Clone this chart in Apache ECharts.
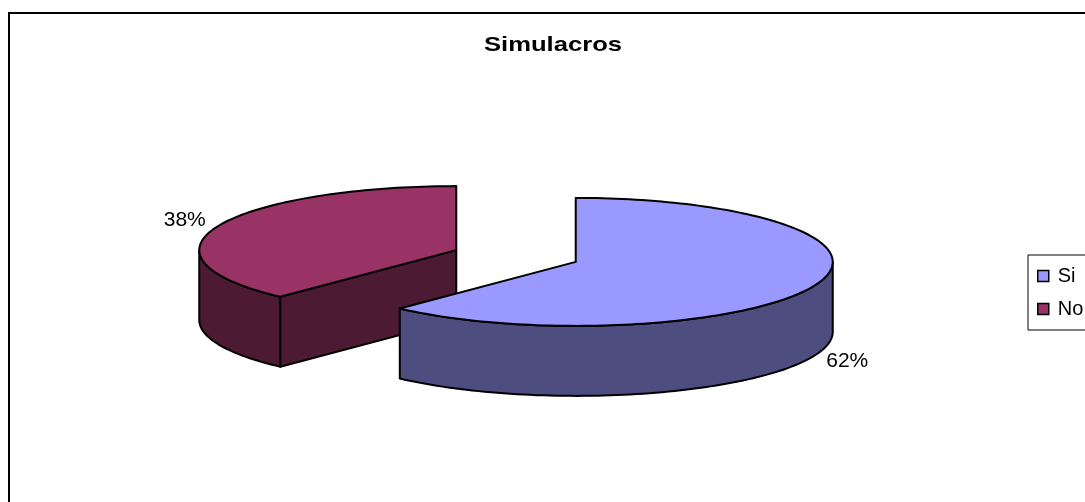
<!DOCTYPE html>
<html>
<head>
<meta charset="utf-8">
<title>Simulacros</title>
<script src="https://cdn.jsdelivr.net/npm/echarts@6/dist/echarts.min.js"></script>
<style>
  html, body { margin: 0; padding: 0; background: #fff; }
  #chart { width: 1085px; height: 502px; }
</style>
</head>
<body>
<div id="chart"></div>
<script>
// Answers to the survey question
const categories = ['Si', 'No'];
const values = [62, 38];
const chartTitle = 'Simulacros';

// 3D pie geometry (screen pixels)
const CX = 516, CY = 256;      // pie centre before exploding
const RX = 257, RY = 64;       // ellipse radii of the top face
const DEPTH = 70;              // thickness of the disc
const EXPLODE = 0.25;          // slice offset as a fraction of the radius
const FONT = '"Liberation Sans", Arial, sans-serif';

const total = values.reduce((s, v) => s + v, 0);
const startAngles = [];
let acc = 0;
values.forEach(v => { startAngles.push(acc / total * 360); acc += v; });

const rad = d => d * Math.PI / 180;

// point on the top ellipse; angle measured clockwise from 12 o'clock
function rim(cx, cy, deg, dy) {
  const r = rad(deg);
  return [cx + RX * Math.sin(r), cy - RY * Math.cos(r) + (dy || 0)];
}

function arc(cx, cy, a, b, dy) {
  const pts = [];
  const n = Math.max(2, Math.ceil(Math.abs(b - a) / 1.5));
  for (let k = 0; k <= n; k++) pts.push(rim(cx, cy, a + (b - a) * k / n, dy));
  return pts;
}

function darken(hex, f) {
  const n = parseInt(hex.slice(1), 16);
  const r = Math.round(((n >> 16) & 255) * f);
  const g = Math.round(((n >> 8) & 255) * f);
  const b = Math.round((n & 255) * f);
  return 'rgb(' + r + ',' + g + ',' + b + ')';
}

function renderSlice(params, api) {
  const i = params.seriesIndex;
  const v = api.value(0);
  const th0 = startAngles[i];
  const th1 = th0 + v / total * 360;
  const mid = rad((th0 + th1) / 2);
  const cx = CX + EXPLODE * RX * Math.sin(mid);
  const cy = CY - EXPLODE * RY * Math.cos(mid);
  // slices nearer the viewer are painted later
  const base = Math.round((1 - Math.cos(mid)) * 50) * 10;
  const topColor = api.visual('color');
  const sideColor = darken(topColor, 0.5);
  const line = { stroke: '#000', lineWidth: 2, lineJoin: 'round' };
  const children = [];

  // visible part of the curved outer wall (front half of the disc)
  const a = Math.max(th0, 90), b = Math.min(th1, 270);
  if (b > a) {
    const pts = arc(cx, cy, a, b, 0).concat(arc(cx, cy, b, a, DEPTH));
    children.push({ type: 'polygon', z2: base + 1,
      shape: { points: pts }, style: Object.assign({ fill: sideColor }, line) });
  }
  // flat radial faces that turn toward the viewer
  const face = deg => {
    const p = rim(cx, cy, deg, 0);
    return [[cx, cy], p, [p[0], p[1] + DEPTH], [cx, cy + DEPTH]];
  };
  if (Math.sin(rad(th0)) < -1e-6) {
    children.push({ type: 'polygon', z2: base + 1,
      shape: { points: face(th0) }, style: Object.assign({ fill: sideColor }, line) });
  }
  if (Math.sin(rad(th1)) > 1e-6) {
    children.push({ type: 'polygon', z2: base + 1,
      shape: { points: face(th1) }, style: Object.assign({ fill: sideColor }, line) });
  }
  // top face
  children.push({ type: 'polygon', z2: base + 2,
    shape: { points: [[cx, cy]].concat(arc(cx, cy, th0, th1, 0)) },
    style: Object.assign({ fill: topColor }, line) });

  // percentage label outside the rim
  const front = Math.cos(mid) < 0;
  children.push({ type: 'text', z2: base + 3,
    x: cx + (RX + 35) * Math.sin(mid),
    y: cy - (RY + 16) * Math.cos(mid) + (front ? DEPTH : 0),
    style: { text: Math.round(v / total * 100) + '%', font: '21px ' + FONT,
      fill: '#000', align: 'center', verticalAlign: 'middle' } });

  return { type: 'group', children: children };
}

const chart = echarts.init(document.getElementById('chart'), null, { renderer: 'canvas' });

chart.setOption({
  animation: false,
  backgroundColor: '#fff',
  color: ['#9999FF', '#993366'],
  graphic: [
    { type: 'rect', z: 0, shape: { x: 9, y: 13, width: 1090, height: 500 },
      style: { fill: 'none', stroke: '#000', lineWidth: 2 } },
    { type: 'text', x: 553, y: 45, scaleX: 1.22,
      style: { text: chartTitle, font: 'bold 21px ' + FONT, fill: '#000',
        align: 'center', verticalAlign: 'middle' } }
  ],
  legend: {
    orient: 'vertical',
    left: 1028, top: 255,
    padding: [11, 30, 11, 9],
    itemWidth: 11, itemHeight: 11, itemGap: 13,
    icon: 'rect',
    borderColor: '#000', borderWidth: 1,
    backgroundColor: '#fff',
    itemStyle: { borderColor: '#000', borderWidth: 1.5 },
    textStyle: { fontFamily: FONT, fontSize: 20, color: '#000', padding: [0, 0, 0, 4] },
    data: categories
  },
  series: categories.map((name, i) => ({
    type: 'custom',
    name: name,
    coordinateSystem: 'none',
    renderItem: renderSlice,
    data: [[values[i]]]
  }))
});
</script>
</body>
</html>
